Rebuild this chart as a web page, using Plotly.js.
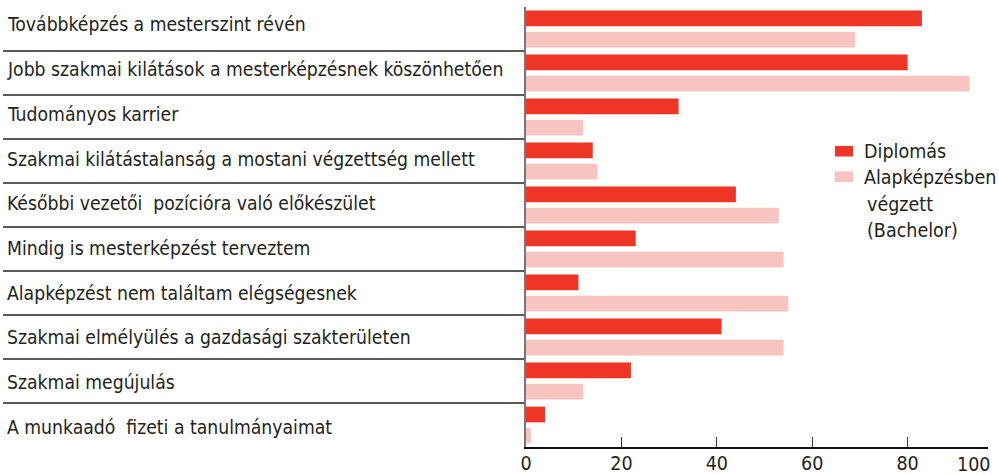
<!DOCTYPE html>
<html>
<head>
<meta charset="utf-8">
<script src="https://cdn.plot.ly/plotly-3.0.1.min.js"></script>
<style>html,body{margin:0;padding:0;background:#fff;}#chart{width:999px;height:475px;}</style>
</head>
<body>
<div id="chart"></div>
<script>
const categories = [
  "Továbbképzés a mesterszint révén",
  "Jobb szakmai kilátások a mesterképzésnek köszönhetően",
  "Tudományos karrier",
  "Szakmai kilátástalanság a mostani végzettség mellett",
  "Későbbi vezetői\u00a0 pozícióra való előkészület",
  "Mindig is mesterképzést terveztem",
  "Alapképzést nem találtam elégségesnek",
  "Szakmai elmélyülés a gazdasági szakterületen",
  "Szakmai megújulás",
  "A munkaadó\u00a0 fizeti a tanulmányaimat"
];
const diplomas = [83, 80, 32, 14, 44, 23, 11, 41, 22, 4];
const alapkepzes = [69, 93, 12, 15, 53, 54, 55, 54, 12, 1];
const seriesNames = ["Diplomás", "Alapképzésben végzett (Bachelor)"];
const legendLines = [["Diplomás"], ["Alapképzésben", "végzett", "(Bachelor)"]];
const tickValues = [0, 20, 40, 60, 80];
const tickLabels = ["0", "20", "40", "60", "80"];
const lastTickLabel = "100";
const colors = ['#EF3526', '#F8C4BF'];

const FONT = '"DejaVu Sans Condensed", "Liberation Sans Narrow", Roboto, sans-serif';
const TXT = '#231f20';
const W = 999, H = 475;
const margin = {l: 526, r: 11, t: 7, b: 28};
const plotW = W - margin.l - margin.r;
const plotH = H - margin.t - margin.b;
const n = categories.length;
const px2x = p => (p - margin.l) / plotW;
const px2y = p => 1 - (p - margin.t) / plotH;

const traces = [
  {type: 'bar', orientation: 'h', name: seriesNames[0], y: categories, x: diplomas,
   marker: {color: colors[0]}, hoverinfo: 'x+y'},
  {type: 'bar', orientation: 'h', name: seriesNames[1], y: categories, x: alapkepzes,
   marker: {color: colors[1]}, hoverinfo: 'x+y'}
];

const shapes = [];
for (let k = 1; k < n; k++) {
  shapes.push({type: 'line', xref: 'paper', yref: 'paper',
    x0: px2x(3), x1: px2x(524), y0: 1 - k / n, y1: 1 - k / n,
    line: {color: '#222', width: 1.5}});
}
// legend swatches
const swatchTop = [146, 171.5];
swatchTop.forEach((t, i) => {
  shapes.push({type: 'rect', xref: 'paper', yref: 'paper',
    x0: px2x(835), x1: px2x(853), y0: px2y(t), y1: px2y(t + 10.5),
    fillcolor: colors[i], line: {width: 0}});
});

const annotations = categories.map((c, i) => {
  const py = 25 + 44.7 * i;
  return {text: c, xref: 'paper', yref: 'paper', x: px2x(5),
    y: px2y(py), xanchor: 'left', yanchor: 'middle',
    showarrow: false, font: {family: FONT, size: 19.2, color: TXT}};
});
// legend texts
const legendRows = [
  {t: legendLines[0][0], x: 862, y: 151},
  {t: legendLines[1][0], x: 862, y: 177},
  {t: legendLines[1][1], x: 865, y: 204},
  {t: legendLines[1][2], x: 865, y: 230}
];
legendRows.forEach(r => annotations.push({text: r.t, xref: 'paper', yref: 'paper',
  x: px2x(r.x), y: px2y(r.y), xanchor: 'left', yanchor: 'middle', showarrow: false,
  font: {family: FONT, size: 19.5, color: TXT}}));
annotations.push({text: lastTickLabel, xref: 'paper', yref: 'paper', x: px2x(992),
  y: 0, yanchor: 'top', xanchor: 'right', yshift: -4, showarrow: false,
  font: {family: FONT, size: 19.5, color: TXT}});

const layout = {
  width: W, height: H, margin: margin,
  paper_bgcolor: '#fff', plot_bgcolor: '#fff',
  barmode: 'group', bargap: 0.045, bargroupgap: 0.25,
  showlegend: false,
  xaxis: {range: [0, (988 - margin.l) / 4.77], tickvals: tickValues, ticktext: tickLabels,
    ticks: 'inside', ticklen: 10, tickwidth: 1.2, tickcolor: '#333',
    ticklabelstandoff: -2,
    showline: true, linecolor: '#111', linewidth: 1.5, showgrid: false, zeroline: false,
    tickfont: {family: FONT, size: 19.5, color: TXT}, fixedrange: true},
  yaxis: {type: 'category', categoryorder: 'array', categoryarray: categories,
    range: [n - 0.5, -0.5], showticklabels: false, ticks: '', showgrid: false,
    showline: true, linecolor: '#777', linewidth: 2, zeroline: false, fixedrange: true},
  shapes: shapes, annotations: annotations
};

Plotly.newPlot('chart', traces, layout, {displayModeBar: false, staticPlot: true});
</script>
</body>
</html>
